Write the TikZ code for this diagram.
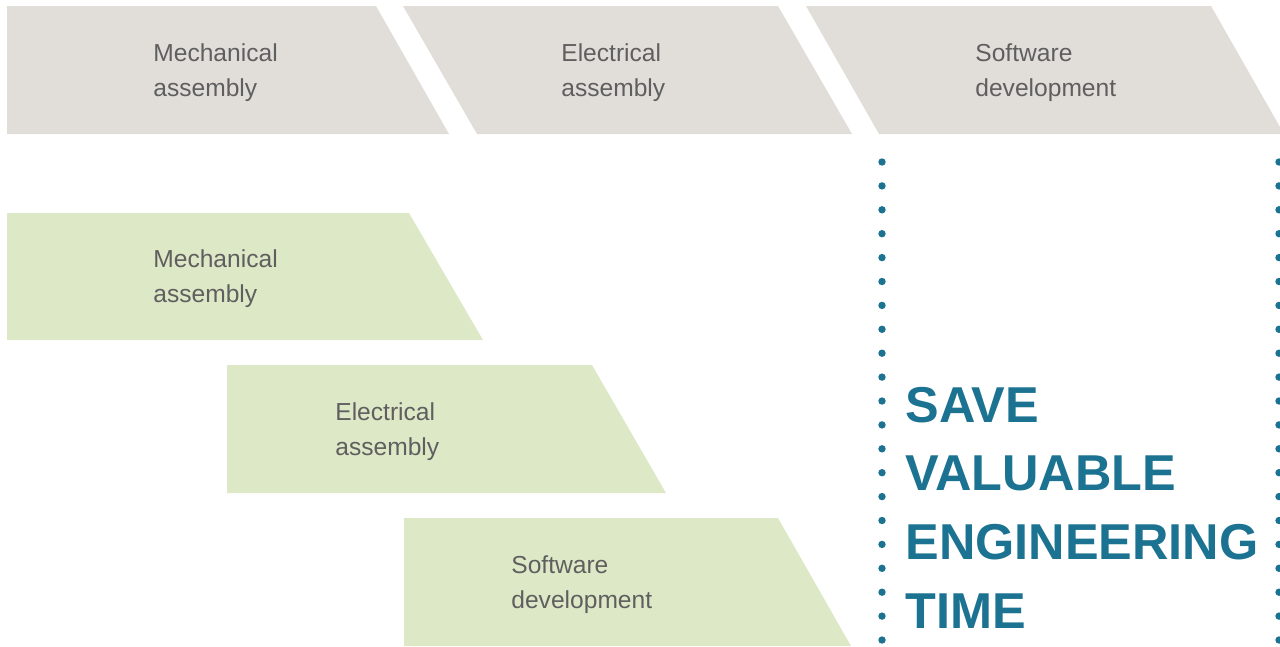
\documentclass[tikz,border=0pt]{standalone}
\usepackage{fontspec}
\setmainfont{Liberation Sans}
\definecolor{stepgrey}{RGB}{225,222,218}
\definecolor{stepgreen}{RGB}{221,233,198}
\definecolor{labelgrey}{RGB}{95,95,95}
\definecolor{savecol}{RGB}{28,114,145}

\begin{document}
\begin{tikzpicture}[x=0.02cm,y=-0.02cm,
  steptext/.style={anchor=west,align=left,inner sep=0pt,text=labelgrey,font=\fontsize{14}{20}\selectfont},
  savetext/.style={anchor=base west,inner sep=0pt,text=savecol,font=\fontsize{28.7}{34}\selectfont\bfseries}]
\useasboundingbox (0,0) rectangle (1280,646);
\fill [stepgrey] (7,6) -- (376,6) -- (449,134) -- (7,134) -- cycle;
\fill [stepgrey] (403,6) -- (778,6) -- (852,134) -- (477,134) -- cycle;
\fill [stepgrey] (806,6) -- (1211,6) -- (1284,134) -- (879,134) -- cycle;
\fill [stepgreen] (7,213) -- (409,213) -- (483,340) -- (7,340) -- cycle;
\fill [stepgreen] (227,365) -- (592,365) -- (666,493) -- (227,493) -- cycle;
\fill [stepgreen] (404,518) -- (778,518) -- (851,646) -- (404,646) -- cycle;
\node [steptext] (mechtop) at (153,73) {Mechanical\\assembly};
\node [steptext] (electop) at (561,73) {Electrical\\assembly};
\node [steptext] (softtop) at (975,73) {Software\\development};
\node [steptext] (mechnew) at (153,279) {Mechanical\\assembly};
\node [steptext] (elecnew) at (335,431.5) {Electrical\\assembly};
\node [steptext] (softnew) at (511,584.5) {Software\\development};
\foreach \i in {0,...,20} {
  \fill [savecol] (882,162+23.9*\i) circle [radius=3.7];
  \fill [savecol] (1279,162+23.9*\i) circle [radius=3.7];
}
\foreach \w [count=\i] in {SAVE,VALUABLE,ENGINEERING,TIME}
  \node [savetext] (save\i) at (905,422+68.7*\i-68.7) {\w};
\end{tikzpicture}
\end{document}
